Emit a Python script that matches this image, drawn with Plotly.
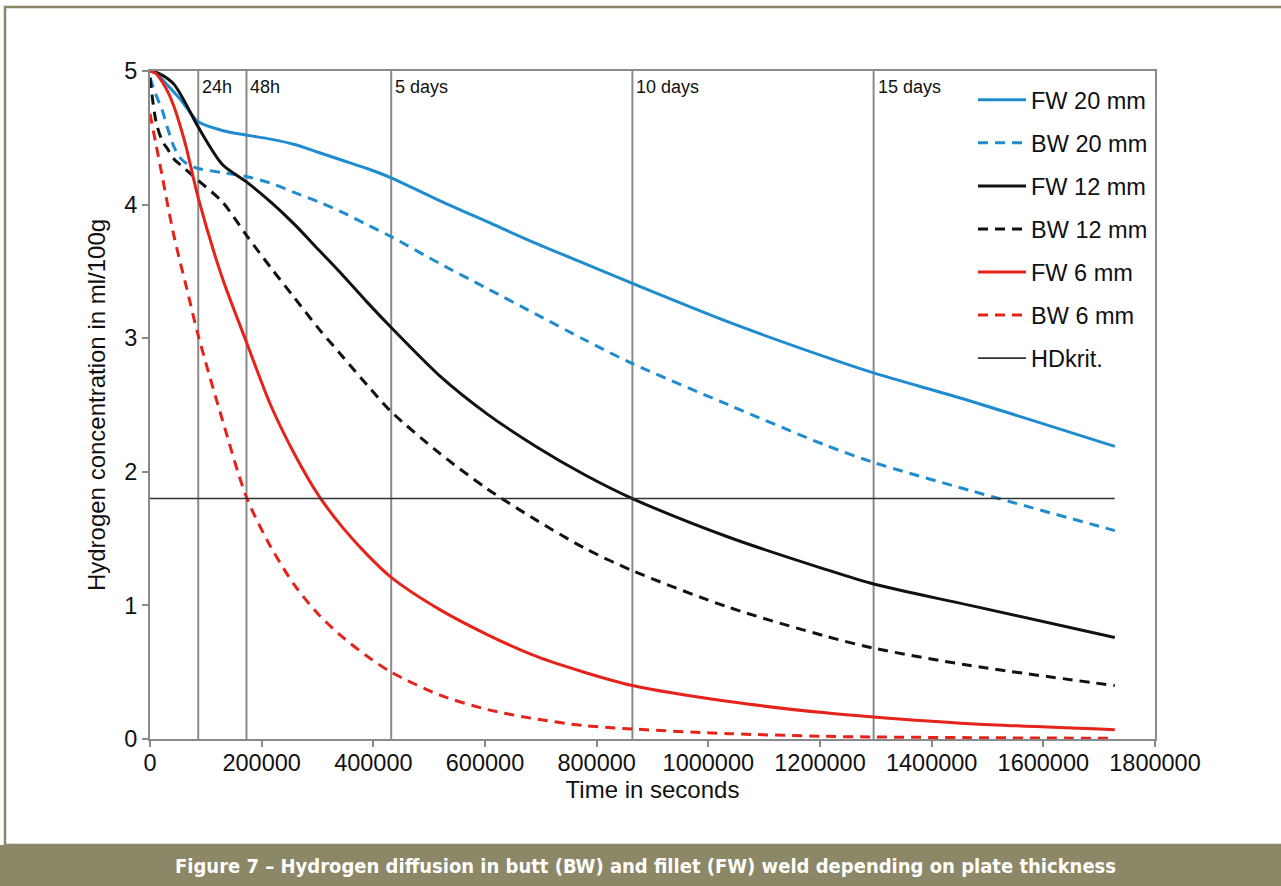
import plotly.graph_objects as go

# Time in seconds (0 h ... 20 days)
t_s = [0, 10800, 21600, 32400, 43200, 54000, 64800, 86400, 129600, 172800,
       216000, 259200, 302400, 345600, 388800, 432000,
       518400, 604800, 691200, 777600, 864000, 1036800, 1209600, 1296000,
       1468800, 1728000]

# Hydrogen concentration in ml/100g
fw_20 = [5.00, 4.985, 4.94, 4.89, 4.84, 4.79, 4.73, 4.62, 4.555, 4.52,
         4.49, 4.45, 4.39, 4.33, 4.27, 4.20,
         4.03, 3.87, 3.71, 3.56, 3.41, 3.12, 2.86, 2.74, 2.53, 2.19]
bw_20 = [4.95, 4.82, 4.71, 4.56, 4.43, 4.35, 4.31, 4.27, 4.24, 4.21,
         4.16, 4.09, 4.02, 3.94, 3.85, 3.76,
         3.56, 3.37, 3.18, 2.99, 2.81, 2.50, 2.20, 2.07, 1.86, 1.56]
fw_12 = [5.00, 4.99, 4.97, 4.94, 4.90, 4.83, 4.75, 4.58, 4.30, 4.17,
         4.02, 3.85, 3.66, 3.47, 3.27, 3.08,
         2.72, 2.43, 2.19, 1.98, 1.80, 1.51, 1.27, 1.16, 1.00, 0.76]
bw_12 = [4.95, 4.62, 4.48, 4.41, 4.34, 4.30, 4.26, 4.18, 4.02, 3.77,
         3.53, 3.30, 3.07, 2.86, 2.65, 2.45,
         2.14, 1.87, 1.64, 1.43, 1.26, 0.985, 0.77, 0.68, 0.55, 0.40]
fw_6 = [5.00, 4.98, 4.92, 4.84, 4.73, 4.59, 4.43, 4.05, 3.45, 2.97,
        2.50, 2.13, 1.82, 1.58, 1.38, 1.21,
        0.97, 0.78, 0.62, 0.50, 0.40, 0.28, 0.196, 0.165, 0.115, 0.07]
bw_6 = [4.68, 4.45, 4.22, 3.98, 3.76, 3.57, 3.39, 3.02, 2.39, 1.81,
        1.44, 1.15, 0.93, 0.76, 0.62, 0.50,
        0.33, 0.22, 0.15, 0.10, 0.075, 0.04, 0.02, 0.015, 0.01, 0.005]

hd_krit = 1.8
hd_span = [0, 1728000]

# Time markers drawn as vertical lines
mark_t = [86400, 172800, 432000, 864000, 1296000]
mark_labels = ["24h", "48h", "5 days", "10 days", "15 days"]

x_ticks = list(range(0, 1800001, 200000))
x_ticktext = [str(v) for v in x_ticks]

BLUE = "#1f8ccf"
BLACK = "#111111"
RED = "#e5231b"
OLIVE = "#8c8766"
DASH = "10px,7px"

series = [
    ("FW 20 mm", fw_20, BLUE, "solid"),
    ("BW 20 mm", bw_20, BLUE, DASH),
    ("FW 12 mm", fw_12, BLACK, "solid"),
    ("BW 12 mm", bw_12, BLACK, DASH),
    ("FW 6 mm", fw_6, RED, "solid"),
    ("BW 6 mm", bw_6, RED, DASH),
]

fig = go.Figure()
for i, (name, vals, col, dash) in enumerate(series):
    fig.add_trace(go.Scatter(
        x=t_s, y=vals, name=name, mode="lines",
        line=dict(color=col, width=3, dash=dash, shape="spline", smoothing=0.8),
        legendgroup=f"g{i}",
    ))
fig.add_trace(go.Scatter(
    x=hd_span, y=[hd_krit, hd_krit], name="HDkrit.", mode="lines",
    line=dict(color="#333333", width=1.6), legendgroup="g6",
))

for t, lab in zip(mark_t, mark_labels):
    fig.add_shape(type="line", xref="x", yref="paper", x0=t, x1=t, y0=0, y1=1,
                  line=dict(color="#8a8a8a", width=2), layer="below")
    fig.add_annotation(x=t, y=1, xref="x", yref="paper", text=lab,
                       showarrow=False, xanchor="left", yanchor="top",
                       xshift=2, yshift=-4,
                       font=dict(size=18, color="#111111"))

# Page frame and caption bar, positioned in pixels
W, H = 1281, 886
ML, MR, MT, MB = 150, 126, 71, 147
PW, PH = W - ML - MR, H - MT - MB


def px(x):
    return (x - ML) / PW


def py(y):
    return (H - MB - y) / PH


fig.add_shape(type="rect", xref="paper", yref="paper",
              x0=px(5), x1=px(1290), y0=py(845), y1=py(7),
              line=dict(color=OLIVE, width=2.5), fillcolor="rgba(0,0,0,0)",
              layer="below")
fig.add_shape(type="rect", xref="paper", yref="paper",
              x0=px(0), x1=px(1290), y0=py(890), y1=py(845),
              line=dict(width=0), fillcolor=OLIVE, layer="above")
fig.add_annotation(xref="paper", yref="paper", x=px(645), y=py(866),
                   text="<b>Figure 7 – Hydrogen diffusion in butt (BW) and fillet (FW) weld depending on plate thickness</b>",
                   showarrow=False, xanchor="center", yanchor="middle",
                   font=dict(size=20, color="white",
                             family="Liberation Sans Narrow, DejaVu Sans Condensed, Arial Narrow, Liberation Sans"))

axis_common = dict(
    showgrid=False, zeroline=False, showline=True, linecolor="#8a8a8a",
    linewidth=2, mirror=True, ticks="outside", ticklen=6, tickwidth=1.5,
    tickcolor="#8a8a8a", tickfont=dict(size=23.5, color="#111111"),
)

fig.update_xaxes(range=[0, 1800000], tickvals=x_ticks, ticktext=x_ticktext,
                 ticklabelstandoff=-4,
                 title=dict(text="Time in seconds", font=dict(size=24, color="#111111"),
                            standoff=0),
                 **axis_common)
fig.update_yaxes(range=[0, 5], dtick=1,
                 title=dict(text="Hydrogen concentration in ml/100g",
                            font=dict(size=24, color="#111111"), standoff=12),
                 **axis_common)

fig.update_layout(
    width=W, height=H,
    margin=dict(l=ML, r=MR, t=MT, b=MB, autoexpand=False),
    paper_bgcolor="white", plot_bgcolor="white",
    font=dict(family="Liberation Sans, Arial, sans-serif", color="#111111"),
    showlegend=True,
    legend=dict(x=px(973), y=py(78), xanchor="left", yanchor="top",
                bgcolor="rgba(255,255,255,0)", borderwidth=0,
                font=dict(size=23.5, color="#111111"),
                traceorder="grouped", tracegroupgap=9.5, itemwidth=48),
)

fig.write_html("out.html")
